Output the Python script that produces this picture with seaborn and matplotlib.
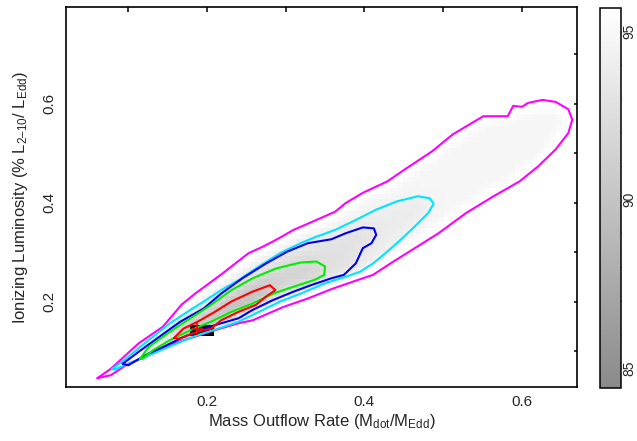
import numpy as np
import pandas as pd
import seaborn as sns
import matplotlib.pyplot as plt
from matplotlib.path import Path
from matplotlib.colors import LinearSegmentedColormap
from matplotlib.ticker import MultipleLocator

# Contour vertices (data units)
magenta_x = [0.061, 0.078, 0.113, 0.144, 0.168, 0.185, 0.203, 0.220, 0.236, 0.253, 0.271, 0.288,
             0.310, 0.339, 0.363, 0.376, 0.398, 0.429, 0.451, 0.486, 0.512, 0.551, 0.582, 0.589,
             0.600, 0.608, 0.626, 0.643, 0.659, 0.664, 0.659, 0.643, 0.621, 0.597, 0.564, 0.529,
             0.494, 0.464, 0.433, 0.411, 0.385, 0.358, 0.328, 0.297, 0.258, 0.240, 0.210, 0.183,
             0.157, 0.131, 0.100, 0.078]
magenta_y = [0.045, 0.064, 0.115, 0.149, 0.194, 0.216, 0.237, 0.257, 0.277, 0.298, 0.311, 0.325,
             0.345, 0.365, 0.382, 0.399, 0.420, 0.443, 0.467, 0.504, 0.538, 0.575, 0.575, 0.596,
             0.594, 0.602, 0.608, 0.604, 0.589, 0.568, 0.541, 0.508, 0.474, 0.443, 0.413, 0.379,
             0.338, 0.308, 0.277, 0.254, 0.240, 0.225, 0.206, 0.189, 0.162, 0.156, 0.142, 0.128,
             0.115, 0.095, 0.074, 0.051]

cyan_x = [0.080, 0.100, 0.126, 0.153, 0.179, 0.196, 0.218, 0.240, 0.266, 0.293, 0.319, 0.337,
          0.363, 0.389, 0.415, 0.442, 0.468, 0.483, 0.488, 0.481, 0.464, 0.446, 0.429, 0.411,
          0.394, 0.376, 0.350, 0.319, 0.293, 0.266, 0.240, 0.214, 0.188, 0.157, 0.126, 0.100, 0.082]
cyan_y = [0.064, 0.088, 0.122, 0.156, 0.183, 0.200, 0.223, 0.243, 0.271, 0.298, 0.318, 0.330,
          0.345, 0.365, 0.386, 0.403, 0.413, 0.409, 0.398, 0.379, 0.352, 0.325, 0.301, 0.277,
          0.260, 0.250, 0.237, 0.216, 0.200, 0.179, 0.159, 0.145, 0.132, 0.112, 0.091, 0.074, 0.062]

blue_x = [0.093, 0.113, 0.139, 0.166, 0.196, 0.218, 0.245, 0.275, 0.302, 0.328, 0.358, 0.376,
          0.398, 0.412, 0.415, 0.409, 0.398, 0.389, 0.374, 0.358, 0.332, 0.310, 0.284, 0.258,
          0.240, 0.218, 0.196, 0.170, 0.144, 0.126, 0.100]
blue_y = [0.074, 0.098, 0.128, 0.159, 0.186, 0.216, 0.247, 0.277, 0.301, 0.318, 0.326, 0.338,
          0.350, 0.348, 0.335, 0.318, 0.308, 0.277, 0.254, 0.247, 0.233, 0.220, 0.203, 0.183,
          0.166, 0.156, 0.145, 0.128, 0.108, 0.095, 0.071]

green_x = [0.115, 0.126, 0.153, 0.179, 0.205, 0.231, 0.258, 0.288, 0.319, 0.339, 0.350, 0.349,
           0.337, 0.310, 0.284, 0.258, 0.231, 0.205, 0.179, 0.153, 0.131, 0.118]
green_y = [0.084, 0.108, 0.139, 0.166, 0.193, 0.223, 0.247, 0.267, 0.279, 0.281, 0.271, 0.254,
           0.244, 0.230, 0.216, 0.196, 0.179, 0.159, 0.142, 0.122, 0.101, 0.084]

red_x = [0.158, 0.170, 0.188, 0.210, 0.231, 0.258, 0.280, 0.287, 0.275, 0.262, 0.240, 0.218,
         0.205, 0.188, 0.170, 0.164]
red_y = [0.126, 0.145, 0.159, 0.179, 0.200, 0.220, 0.233, 0.223, 0.210, 0.193, 0.179, 0.162,
         0.145, 0.139, 0.128, 0.125]

level_names = ['magenta', 'cyan', 'blue', 'green', 'red']
# colour-bar value of the shading inside each contour
level_values = [94.8, 93.8, 92.8, 91.4, 88.8]
# darkest (best-fit) cells and the best-fit marker
peak_x = [0.175, 0.205]
peak_y = [0.132, 0.159]
peak_value = 80.0
best_x, best_y = 0.188, 0.145

contours = {
    'magenta': (magenta_x, magenta_y),
    'cyan': (cyan_x, cyan_y),
    'blue': (blue_x, blue_y),
    'green': (green_x, green_y),
    'red': (red_x, red_y),
}

sns.set_theme(style='ticks')
plt.rcParams['font.family'] = ['Liberation Sans', 'DejaVu Sans']
plt.rcParams['mathtext.fontset'] = 'custom'
plt.rcParams['mathtext.rm'] = 'Liberation Sans'
plt.rcParams['mathtext.it'] = 'Liberation Sans:italic'
plt.rcParams['mathtext.default'] = 'regular'

fig = plt.figure(figsize=(6.37, 4.41), dpi=100)
ax = fig.add_axes([0.1036, 0.1224, 0.8022, 0.8617])
cax = fig.add_axes([0.942, 0.1202, 0.033, 0.8617])

# shaded likelihood map built from the nested contour regions
xe = np.arange(0.021, 0.6701, 0.0075)
ye = np.arange(0.027, 0.7961, 0.0115)
xc = 0.5 * (xe[1:] + xe[:-1])
yc = 0.5 * (ye[1:] + ye[:-1])
X, Y = np.meshgrid(xc, yc)
pts = np.column_stack([X.ravel(), Y.ravel()])
Z = np.full(X.size, 99.0)
for name, val in zip(level_names, level_values):
    xs, ys = contours[name]
    inside = Path(np.column_stack([xs, ys])).contains_points(pts)
    Z[inside] = val
Z = Z.reshape(X.shape)
# soften the steps between regions a little
for _ in range(2):
    P = np.pad(Z, 1, mode='edge')
    Z = sum(P[1 + dy:P.shape[0] - 1 + dy, 1 + dx:P.shape[1] - 1 + dx]
            for dy in (-1, 0, 1) for dx in (-1, 0, 1)) / 9.0
Z[(X >= peak_x[0]) & (X <= peak_x[1]) & (Y >= peak_y[0]) & (Y <= peak_y[1])] = peak_value

cmap = LinearSegmentedColormap.from_list('grey', ['#8a8a8a', '#ffffff'])
cmap.set_under('black')
cmap.set_over('white')
mesh = ax.pcolormesh(xe, ye, Z, cmap=cmap, vmin=84.4, vmax=95.7, shading='flat')

# contour lines
rows = []
for name in level_names:
    xs, ys = contours[name]
    for i, (x, y) in enumerate(zip(list(xs) + [xs[0]], list(ys) + [ys[0]])):
        rows.append({'x': x, 'y': y, 'level': name, 'order': i})
df = pd.DataFrame(rows)
palette = {'magenta': '#ff00ff', 'cyan': '#00e5ff', 'blue': '#0000ee', 'green': '#00ee00', 'red': '#ff0000'}
sns.lineplot(data=df, x='x', y='y', hue='level', palette=palette, sort=False,
             estimator=None, legend=False, linewidth=1.5, ax=ax)
ax.plot(best_x, best_y, marker='+', color='red', ms=8, mew=1.2)

ax.set_xlim(0.021, 0.670)
ax.set_ylim(0.027, 0.796)
ax.xaxis.set_major_locator(MultipleLocator(0.2))
ax.xaxis.set_minor_locator(MultipleLocator(0.1))
ax.yaxis.set_major_locator(MultipleLocator(0.2))
ax.yaxis.set_minor_locator(MultipleLocator(0.1))
ax.tick_params(which='both', direction='in', top=True, right=True, color='black', width=1.1)
ax.tick_params(which='major', length=5.5, labelsize=11)
ax.tick_params(which='minor', length=3.5)
ax.tick_params(axis='x', pad=6)
ax.tick_params(axis='y', pad=7)
for lab in ax.get_yticklabels():
    lab.set_rotation(90)
    lab.set_va('center')
for s in ax.spines.values():
    s.set_linewidth(1.2)
    s.set_color('black')
ax.set_xlabel('Mass Outflow Rate (M$_{dot}$/M$_{Edd}$)', fontsize=12, labelpad=2)
ax.set_ylabel('Ionizing Luminosity (% L$_{2\u201310}$/ L$_{Edd}$)', fontsize=12, labelpad=9)

cb = fig.colorbar(mesh, cax=cax)
cb.set_ticks([85, 90, 95])
cb.ax.yaxis.set_minor_locator(MultipleLocator(1))
cb.ax.tick_params(which='both', direction='in', left=True, right=True, color='black', width=1.0)
cb.ax.tick_params(which='major', length=5, labelsize=10, pad=1)
cb.ax.tick_params(which='minor', length=4)
for lab in cb.ax.get_yticklabels():
    lab.set_rotation(90)
    lab.set_va('center')
cb.outline.set_linewidth(1.1)
cb.outline.set_edgecolor('black')

fig.savefig('out.png', dpi=100)
